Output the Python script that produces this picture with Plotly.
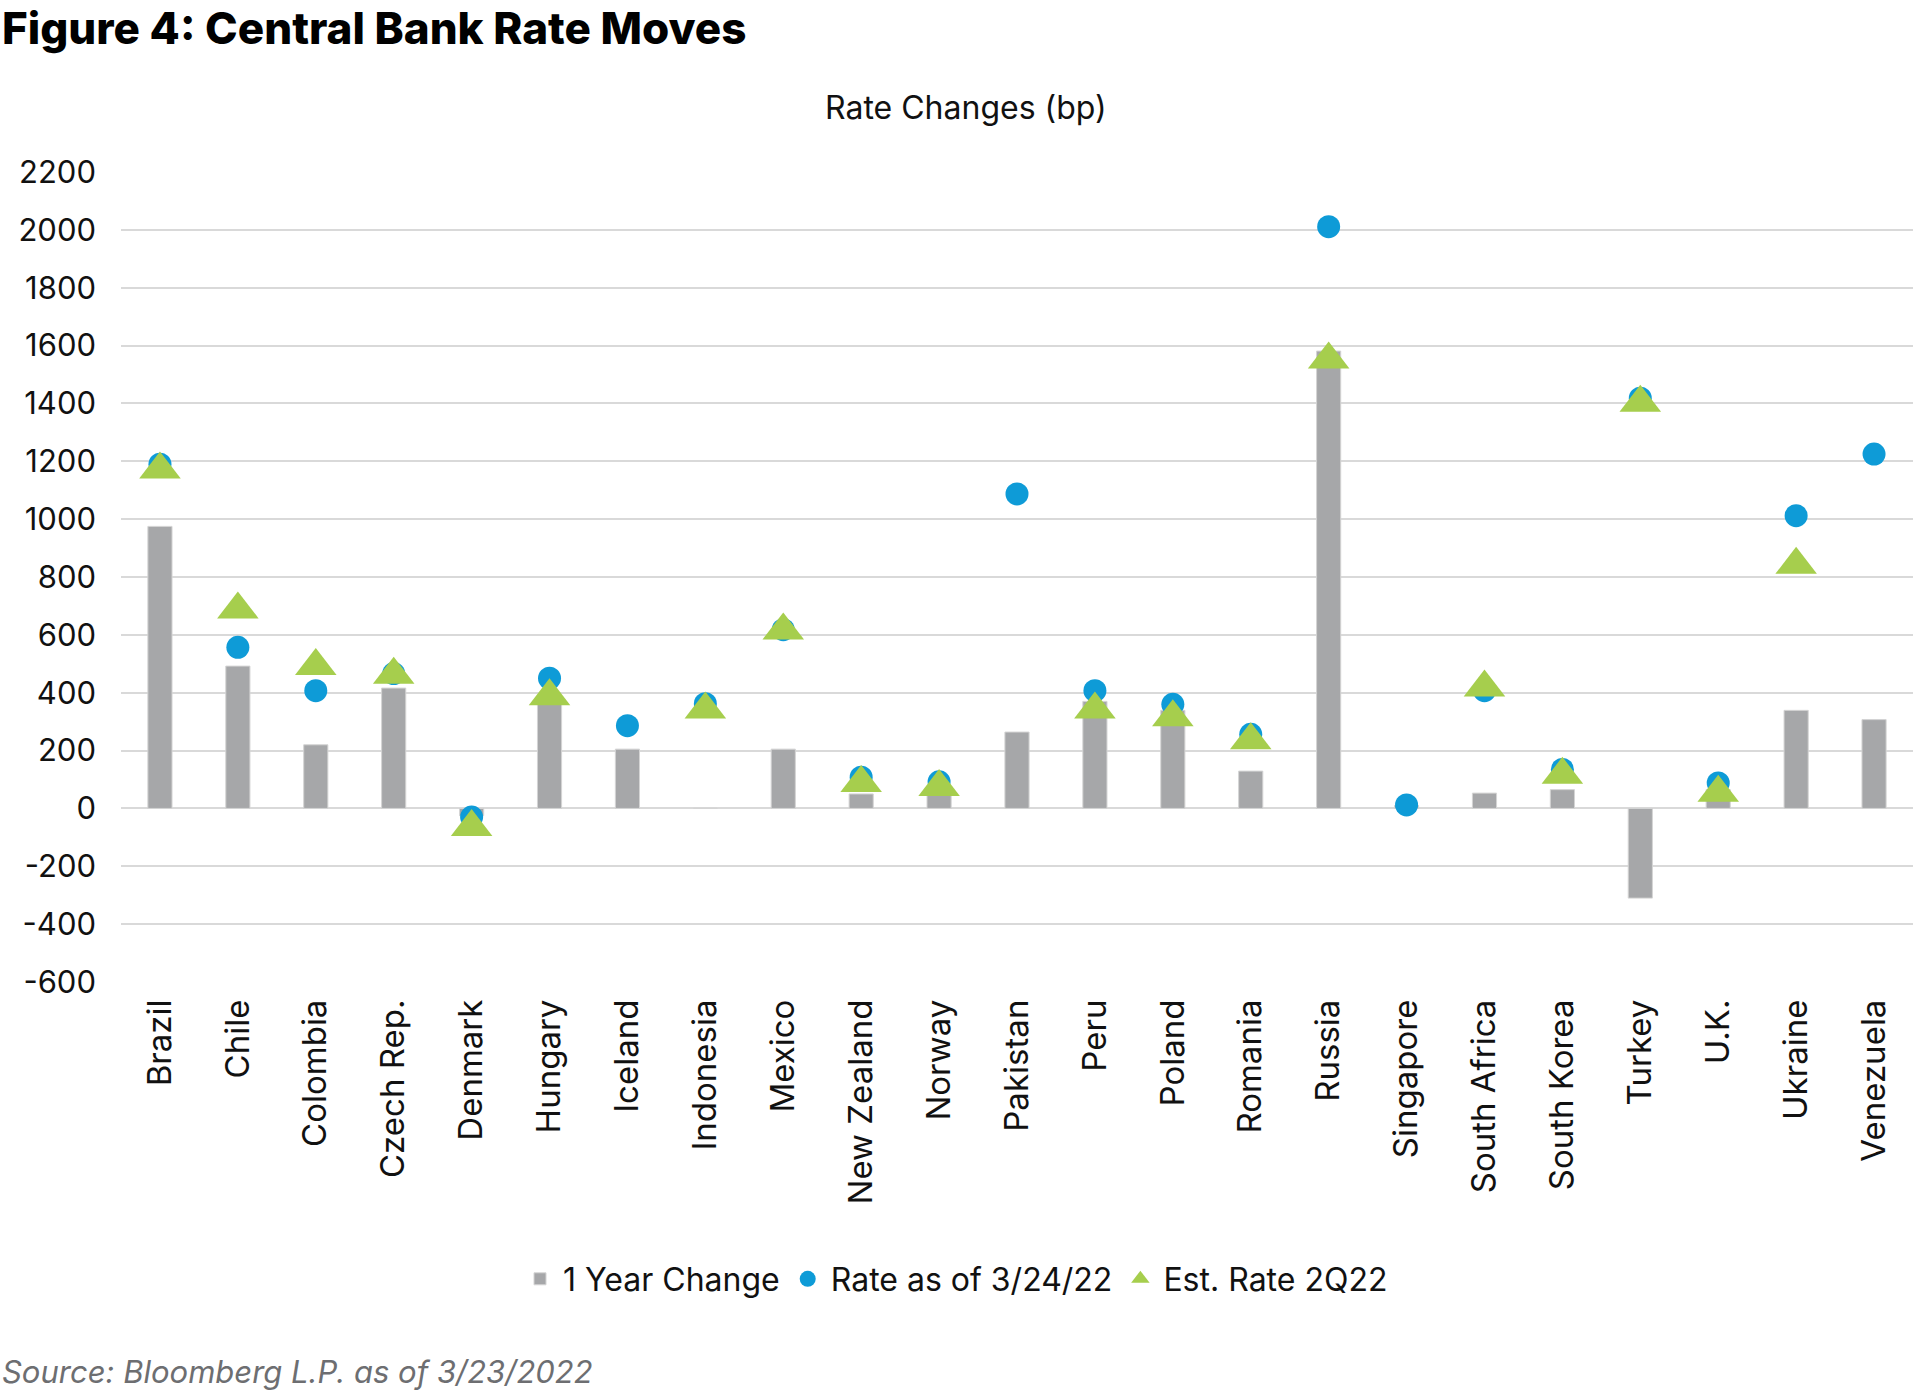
import plotly.graph_objects as go

categories = ["Brazil", "Chile", "Colombia", "Czech Rep.", "Denmark", "Hungary", "Iceland",
              "Indonesia", "Mexico", "New Zealand", "Norway", "Pakistan", "Peru", "Poland",
              "Romania", "Russia", "Singapore", "South Africa", "South Korea", "Turkey",
              "U.K.", "Ukraine", "Venezuela"]

one_year_change = [975, 492, 220, 416, -25, 371, 205, 0, 205, 50, 50, 264, 370, 339,
                   129, 1581, 10, 53, 65, -310, 65, 339, 307]

rate_as_of_3_24_22 = [1190, 557, 407, 466, -30, 450, 286, 362, 618, 108, 92, 1087, 407, 360,
                      256, 2011, 12, 407, 135, 1418, 88, 1012, 1225]

est_rate_2q22 = [1172, 688, 492, 462, -64, 388, None, 342, 615, 88, 74, None, 342, 315,
                 236, 1552, None, 418, 116, 1402, 54, 842, None]

y_ticks = [-600, -400, -200, 0, 200, 400, 600, 800, 1000, 1200, 1400, 1600, 1800, 2000, 2200]

FONT = "Inter"
W, H = 1913, 1391
L, R, T, B = 121, 0, 172, 409
PW, PH = W - L - R, H - T - B


def px_x(px):
    return (px - L) / PW


def px_y(py):
    return (H - B - py) / PH


fig = go.Figure()
fig.add_trace(go.Bar(
    x=categories, y=one_year_change, name="1 Year Change",
    marker=dict(color="#a6a7a9", line=dict(color="#d4d4d4", width=1)),
    width=0.31,
))
fig.add_trace(go.Scatter(
    x=categories, y=rate_as_of_3_24_22, name="Rate as of 3/24/22", mode="markers",
    marker=dict(symbol="circle", size=23, color="#0e9bd7", line=dict(width=0)),
))
fig.add_trace(go.Scatter(
    x=categories, y=est_rate_2q22, name="Est. Rate 2Q22", mode="markers",
    marker=dict(symbol="triangle-up", size=36, color="#a6ce4d", line=dict(width=0)),
))

fig.update_layout(
    width=W, height=H,
    margin=dict(l=L, r=R, t=T, b=B, pad=0),
    paper_bgcolor="white", plot_bgcolor="white",
    font=dict(family=FONT, color="#111111", size=30),
    showlegend=True,
    legend=dict(
        orientation="h", x=px_x(955), xanchor="center", y=px_y(1279), yanchor="middle",
        font=dict(size=32, family=FONT, color="#111111"),
        itemsizing="trace", traceorder="normal", itemwidth=36,
    ),
    xaxis=dict(
        type="category", range=[-0.5, len(categories) - 0.5], tickangle=-90,
        showgrid=False, showline=False, zeroline=False,
        tickfont=dict(size=33, family=FONT, color="#111111"),
        ticks="", ticklabelstandoff=10,
    ),
    yaxis=dict(
        range=[-600, 2200], tickvals=y_ticks, ticktext=[str(v) for v in y_ticks],
        showgrid=True, gridcolor="#d9d9d9", gridwidth=2,
        zeroline=True, zerolinecolor="#d9d9d9", zerolinewidth=2,
        showline=False, ticks="", ticklabelstandoff=24,
        tickfont=dict(size=31, family=FONT, color="#111111"),
    ),
)

fig.add_annotation(
    text="Figure 4: Central Bank Rate Moves", xref="paper", yref="paper",
    x=px_x(0), y=px_y(28), xanchor="left", yanchor="middle", showarrow=False,
    font=dict(size=44, family=FONT, color="#000000", weight=800),
)
fig.add_annotation(
    text="Rate Changes (bp)", xref="paper", yref="paper",
    x=px_x(966), y=px_y(107), xanchor="center", yanchor="middle", showarrow=False,
    font=dict(size=32, family=FONT, color="#111111"),
)
fig.add_annotation(
    text="<i>Source: Bloomberg L.P. as of 3/23/2022</i>", xref="paper", yref="paper",
    x=px_x(0), y=px_y(1371), xanchor="left", yanchor="middle", showarrow=False,
    font=dict(size=31, family=FONT, color="#6d6e71"),
)

fig.write_html(
    "out.html",
    config={"displayModeBar": False},
    post_script="document.body.style.margin='0';document.body.style.overflow='hidden';",
)
